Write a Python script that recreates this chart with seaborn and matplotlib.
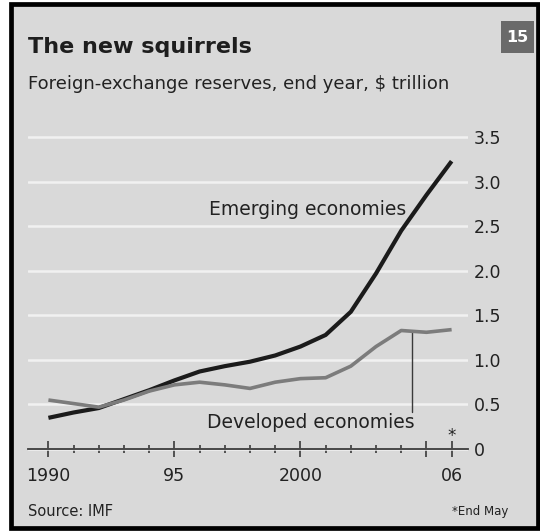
import matplotlib
matplotlib.use("Agg")
import matplotlib.pyplot as plt
from matplotlib.patches import Rectangle
from matplotlib.ticker import FixedLocator
import numpy as np
import pandas as pd
import seaborn as sns

# ---- data ----
years = list(range(1990, 2007))
emerging = [0.35, 0.41, 0.46, 0.56, 0.66, 0.77, 0.87, 0.93, 0.98, 1.05,
            1.15, 1.28, 1.54, 1.97, 2.45, 2.85, 3.23]
developed = [0.55, 0.51, 0.47, 0.55, 0.65, 0.72, 0.75, 0.72, 0.68, 0.75,
             0.79, 0.80, 0.93, 1.15, 1.33, 1.31, 1.34]
series_names = ["Emerging economies", "Developed economies"]
y_ticks = [0, 0.5, 1.0, 1.5, 2.0, 2.5, 3.0, 3.5]
y_ticklabels = ["0", "0.5", "1.0", "1.5", "2.0", "2.5", "3.0", "3.5"]
x_major = [1990, 1995, 2000, 2005, 2006]
x_labels = ["1990", "95", "2000", "", "06"]
title = "The new squirrels"
subtitle = "Foreign-exchange reserves, end year, $ trillion"
source = "Source: IMF"
footnote = "*End May"
chart_no = "15"

df = pd.DataFrame({
    "year": years * 2,
    "value": emerging + developed,
    "series": [series_names[0]] * len(years) + [series_names[1]] * len(years),
})

sns.set_style("white")
plt.rcParams["font.family"] = ["DejaVu Sans"]

W, H, DPI = 540, 531, 100
fig = plt.figure(figsize=(W / DPI, H / DPI), dpi=DPI)
fig.patch.set_facecolor("white")


def fx(px):
    return px / W


def fy(py):
    return 1 - py / H


# background panel with black frame
bg = Rectangle((fx(10.5), fy(528)), fx(537.5) - fx(10.5), fy(4) - fy(528),
               transform=fig.transFigure, facecolor="#d9d9d9",
               edgecolor="black", linewidth=3.4, zorder=-5)
fig.patches.append(bg)

# chart number box
box = Rectangle((fx(501), fy(53)), fx(534) - fx(501), fy(21) - fy(53),
                transform=fig.transFigure, facecolor="#6a6a6a",
                edgecolor="none", zorder=-4)
fig.patches.append(box)
fig.text(fx(517.5), fy(37.5), chart_no, color="white", fontsize=11.5,
         fontweight="bold", ha="center", va="center")

ax = fig.add_axes([fx(28), fy(455), (468 - 28) / W, (455 - 130) / H])
ax.set_facecolor("none")

sns.lineplot(data=df, x="year", y="value", hue="series",
             palette={series_names[0]: "#1b1b1b", series_names[1]: "#7c7c7c"},
             hue_order=series_names, legend=False, ax=ax, zorder=3)
lws = [3.0, 2.6]
for ln, lw in zip(ax.get_lines(), lws):
    ln.set_linewidth(lw)
    ln.set_solid_joinstyle("round")
    ln.set_solid_capstyle("butt")

ax.set_xlim(1989.19, 2006.65)
ax.set_ylim(-0.067, 3.58)
for name in ("top", "left", "right"):
    ax.spines[name].set_visible(False)
ax.spines["bottom"].set_position(("data", 0))
ax.spines["bottom"].set_color("#3a3a3a")
ax.spines["bottom"].set_linewidth(1.3)
ax.spines["bottom"].set_zorder(2)

# y axis on the right
ax.yaxis.tick_right()
ax.set_yticks(y_ticks)
ax.set_yticklabels(y_ticklabels)
ax.tick_params(axis="y", length=0, pad=4, labelsize=12.5, labelcolor="#222222")
ax.grid(axis="y", color="#f1f1f1", linewidth=1.8, zorder=1)
ax.grid(axis="x", visible=False)

# x axis ticks
ax.set_xticks(x_major)
ax.set_xticklabels(x_labels)
ax.xaxis.set_minor_locator(FixedLocator(years))
ax.tick_params(axis="x", which="both", bottom=True, top=False)
ax.tick_params(axis="x", which="major", direction="inout", length=11, width=1.2,
               color="#3a3a3a", labelsize=12.5, labelcolor="#222222", pad=7.5)
ax.tick_params(axis="x", which="minor", direction="inout", length=6, width=1.2,
               color="#3a3a3a")
ax.set_xlabel("")
ax.set_ylabel("")

# line labels
ax.text(2004.19, 2.69, series_names[0], ha="right", va="center",
        fontsize=13.5, color="#222222")
ax.text(2004.55, 0.30, series_names[1], ha="right", va="center",
        fontsize=13.5, color="#222222")
ax.plot([2004.42, 2004.42], [1.31, 0.41], color="#3a3a3a", linewidth=1.0,
        zorder=2)
ax.text(2006, 0.15, "*", ha="center", va="center", fontsize=12,
        color="#222222")

# titles and notes
fig.text(fx(28), fy(47), title, fontsize=16, fontweight="bold",
         color="#1e1e1e", ha="left", va="center")
fig.text(fx(28), fy(84), subtitle, fontsize=13, color="#222222",
         ha="left", va="center")
fig.text(fx(28), fy(511), source, fontsize=10.5, color="#222222",
         ha="left", va="center")
fig.text(fx(508), fy(511), footnote, fontsize=8.5, color="#222222",
         ha="right", va="center")

fig.savefig("out.png", dpi=DPI, facecolor=fig.get_facecolor())
